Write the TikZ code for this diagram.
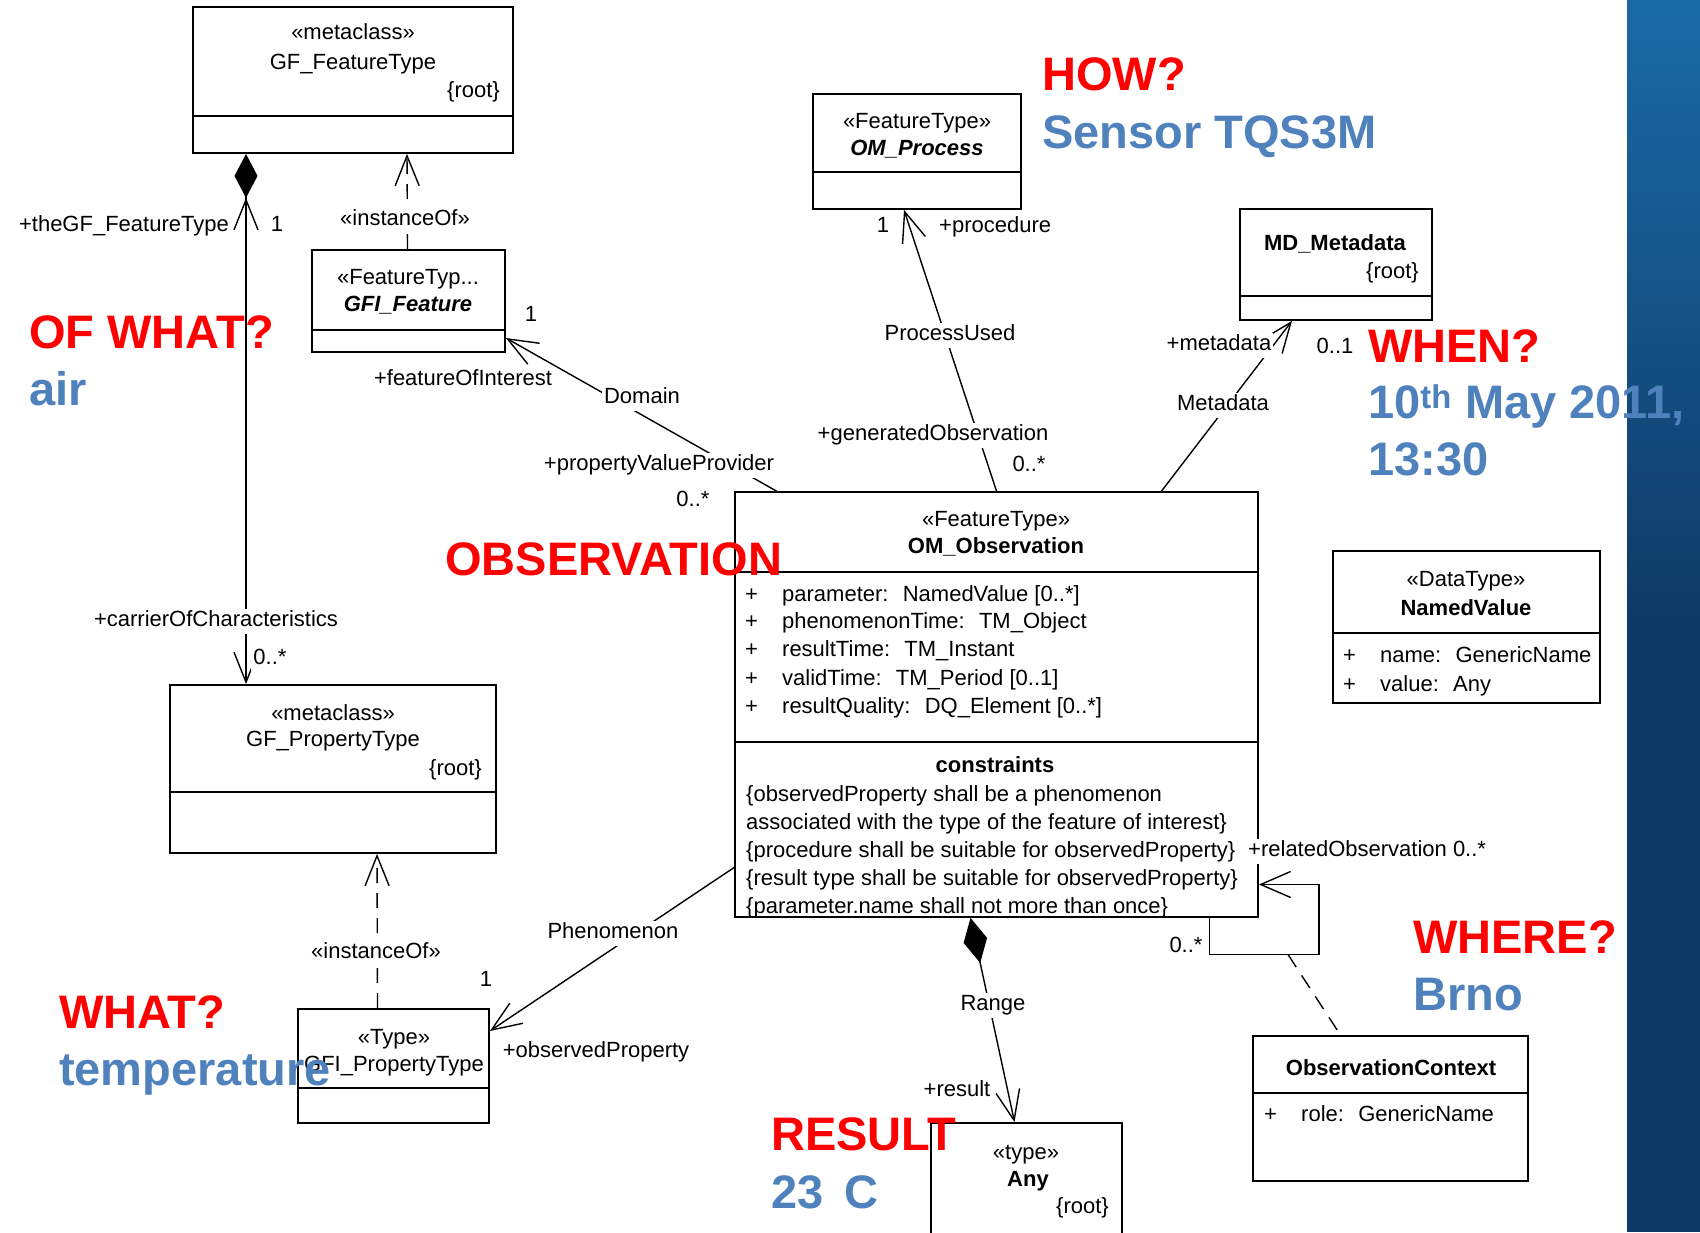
\documentclass[tikz,border=0pt]{standalone}
\usepackage{fontspec}
\setmainfont{Liberation Sans}
\usepackage{xcolor}
\usepackage{tikz}
\usetikzlibrary{arrows.meta}

\definecolor{qred}{HTML}{FF0000}
\definecolor{qblue}{HTML}{4F81BD}
\definecolor{panelhi}{HTML}{1F7FC2}
\definecolor{panellow}{HTML}{0F3A66}
\newcommand{\umlf}{\fontsize{22}{26}\selectfont}
\newcommand{\annf}{\fontsize{47}{54}\selectfont\bfseries}
\newcommand{\umlattr}[1]{\makebox[37pt][l]{+}#1}

\begin{document}
\begin{tikzpicture}[x=1pt, y=-1pt,
  cls/.style={draw, line width=1.8pt, fill=white, inner sep=0pt},
  sep/.style={line width=1.8pt},
  txt/.style={font=\umlf, inner sep=0pt, text height=16pt, text depth=0pt},
  lbl/.style={font=\umlf, fill=white, inner sep=2pt, text height=16pt, text depth=5pt},
  assoc/.style={line width=1.4pt},
  dep/.style={line width=1.4pt, dash pattern=on 15pt off 10pt},
  nav/.style={-{Straight Barb[length=30pt,width=24pt]}},
  qa/.style={font=\annf, text=qred, anchor=base west, inner sep=0pt},
  qb/.style={font=\annf, text=qblue, anchor=base west, inner sep=0pt}]
\useasboundingbox (0,0) rectangle (1700,1232);
\fill[white] (0,0) rectangle (1700,1232);
% slide border on the right
\shade[top color=panelhi!70!panellow, middle color=panelhi, bottom color=panellow]
  (1627,0) rectangle (1700,620);
\fill[panellow] (1627,619) rectangle (1700,1232);

% classes
\node[cls, minimum width=320, minimum height=146] (ft) at (353,80) {};
\draw[sep] (ft.west |- 0,116) -- (ft.east |- 0,116);
\node[txt] at (353,31) {«metaclass»};
\node[txt] at (353,61) {GF\_FeatureType};
\node[txt, anchor=east] at (500,89) {\{root\}};

\node[cls, minimum width=193, minimum height=102] (gfi) at (408.5,301) {};
\draw[sep] (gfi.west |- 0,330) -- (gfi.east |- 0,330);
\node[txt] at (408,276) {«FeatureTyp...};
\node[txt] at (408,303) {\textbf{\textit{GFI\_Feature}}};

\node[cls, minimum width=208, minimum height=115] (op) at (917,151.5) {};
\draw[sep] (op.west |- 0,172) -- (op.east |- 0,172);
\node[txt] at (917,120) {«FeatureType»};
\node[txt] at (917,147) {\textbf{\textit{OM\_Process}}};

\node[cls, minimum width=192, minimum height=111] (md) at (1336,264.5) {};
\draw[sep] (md.west |- 0,296) -- (md.east |- 0,296);
\node[txt] at (1335,242) {\textbf{MD\_Metadata}};
\node[txt, anchor=east] at (1419,270) {\{root\}};

\node[cls, minimum width=523, minimum height=425] (obs) at (996.5,704.5) {};
\draw[sep] (obs.west |- 0,572) -- (obs.east |- 0,572);
\draw[sep] (obs.west |- 0,742) -- (obs.east |- 0,742);
\node[txt] at (996,518) {«FeatureType»};
\node[txt] at (996,545) {\textbf{OM\_Observation}};
\node[txt, anchor=west] at (745,593) {\umlattr{parameter:~ NamedValue [0..*]}};
\node[txt, anchor=west] at (745,620) {\umlattr{phenomenonTime:~ TM\_Object}};
\node[txt, anchor=west] at (745,648) {\umlattr{resultTime:~ TM\_Instant}};
\node[txt, anchor=west] at (745,677) {\umlattr{validTime:~ TM\_Period [0..1]}};
\node[txt, anchor=west] at (745,705) {\umlattr{resultQuality:~ DQ\_Element [0..*]}};
\node[txt] at (995,764) {\textbf{constraints}};
\node[txt, anchor=west] at (746,793) {\{observedProperty shall be a phenomenon};
\node[txt, anchor=west] at (746,821) {associated with the type of the feature of interest\}};
\node[txt, anchor=west] at (746,849) {\{procedure shall be suitable for observedProperty\}};
\node[txt, anchor=west] at (746,877) {\{result type shall be suitable for observedProperty\}};
\node[txt, anchor=west] at (746,905) {\{parameter.name shall not more than once\}};

\node[cls, minimum width=267, minimum height=152] (nv) at (1466.5,627) {};
\draw[sep] (nv.west |- 0,633) -- (nv.east |- 0,633);
\node[txt] at (1466,578) {«DataType»};
\node[txt] at (1466,607) {\textbf{NamedValue}};
\node[txt, anchor=west] at (1343,654) {\umlattr{name:~ GenericName}};
\node[txt, anchor=west] at (1343,683) {\umlattr{value:~ Any}};

\node[cls, minimum width=326, minimum height=168] (pt) at (333,769) {};
\draw[sep] (pt.west |- 0,792) -- (pt.east |- 0,792);
\node[txt] at (333,712) {«metaclass»};
\node[txt] at (333,738) {GF\_PropertyType};
\node[txt, anchor=east] at (482,767) {\{root\}};

\node[cls, minimum width=191, minimum height=114] (gpt) at (393.5,1066) {};
\draw[sep] (gpt.west |- 0,1088) -- (gpt.east |- 0,1088);
\node[txt] at (394,1036) {«Type»};
\node[txt] at (394,1063) {GFI\_PropertyType};

\node[cls, minimum width=191, minimum height=127] (any) at (1026.5,1186.5) {};
\node[txt] at (1026,1151) {«type»};
\node[txt] at (1028,1178) {\textbf{Any}};
\node[txt, anchor=east] at (1109,1205) {\{root\}};

\node[cls, minimum width=275, minimum height=145] (oc) at (1390.5,1108.5) {};
\draw[sep] (oc.west |- 0,1093) -- (oc.east |- 0,1093);
\node[txt] at (1391,1067) {\textbf{ObservationContext}};
\node[txt, anchor=west] at (1264,1113) {\umlattr{role:~ GenericName}};

% associations
\draw[assoc, {Diamond[length=44pt,width=23pt]}-{Straight Barb[length=30pt,width=24pt]}]
  ([xshift=-107pt]ft.south) -- ([xshift=-87pt]pt.north);
\draw[assoc, nav] ([xshift=-107pt,yshift=-75pt]ft.south) -- ([xshift=-107pt,yshift=-44pt]ft.south);
\draw[dep, nav] ([xshift=-1pt]gfi.north) -- ([xshift=54pt]ft.south);
\draw[dep, nav] ([xshift=-16pt]gpt.north) -- ([xshift=44pt]pt.south);
\draw[assoc, nav] ([xshift=-220pt]obs.north) -- ([yshift=-37pt]gfi.east);
\draw[assoc, nav] (obs.north) -- ([xshift=-13pt]op.south);
\draw[assoc, nav] ([xshift=165pt]obs.north) -- ([xshift=-44pt]md.south);
\draw[assoc, nav] ([yshift=-163pt]obs.west) -- ([yshift=35pt]gpt.east);
\draw[assoc, {Diamond[length=46pt,width=24pt]}-{Straight Barb[length=30pt,width=24pt]}]
  ([xshift=-26pt]obs.south) -- ([xshift=-12pt]any.north);
\draw[assoc, {Straight Barb[length=30pt,width=26pt]}-]
  ([yshift=-180pt]obs.east) -- ++(60,0) -- ++(0,70) -| ([xshift=213pt]obs.south);
\coordinate (ctx) at (1288,954.5);
\draw[dep] (ctx) -- ([xshift=-50pt]oc.north);

% role names and multiplicities
\node[txt, anchor=east] at (229,223) {+theGF\_FeatureType};
\node[txt] at (277,223) {1};
\node[lbl] at (405,220) {«instanceOf»};
\node[txt] at (531,313) {1};
\node[txt] at (463,377) {+featureOfInterest};
\node[lbl] at (642,398) {Domain};
\node[lbl] at (659,465) {+propertyValueProvider};
\node[txt] at (693,498) {0..*};
\node[txt] at (883,224) {1};
\node[txt, anchor=west] at (939,224) {+procedure};
\node[lbl] at (950,335) {ProcessUsed};
\node[lbl] at (933,435) {+generatedObservation};
\node[txt] at (1029,463) {0..*};
\node[lbl] at (1219,345) {+metadata};
\node[txt] at (1335,345) {0..1};
\node[lbl] at (1223,405) {Metadata};
\node[lbl] at (216,621) {+carrierOfCharacteristics};
\node[lbl] at (270,659) {0..*};
\node[lbl] at (376,953) {«instanceOf»};
\node[txt] at (486,978) {1};
\node[lbl] at (613,933) {Phenomenon};
\node[txt] at (596,1049) {+observedProperty};
\node[lbl] at (993,1005) {Range};
\node[txt] at (957,1088) {+result};
\node[lbl, anchor=west] at (1246,851) {+relatedObservation 0..*};
\node[txt] at (1186,944) {0..*};

% the questions
\node[qa] at (29,348) {OF WHAT?};
\node[qb] at (29,405) {air};
\node[qa] at (1042,90) {HOW?};
\node[qb] at (1042,148) {Sensor TQS3M};
\node[qa] at (1368,362) {WHEN?};
\node[qb] at (1368,418) {10\textsuperscript{th} May 2011,};
\node[qb] at (1368,475) {13:30};
\node[qa] at (445,575) {OBSERVATION};
\node[qa] at (59,1028) {WHAT?};
\node[qb] at (59,1085) {temperature};
\node[qa] at (771,1150) {RESULT};
\node[qb] at (771,1208) {23\hspace{21pt}C};
\node[qa] at (1413,953) {WHERE?};
\node[qb] at (1413,1010) {Brno};
\end{tikzpicture}
\end{document}
